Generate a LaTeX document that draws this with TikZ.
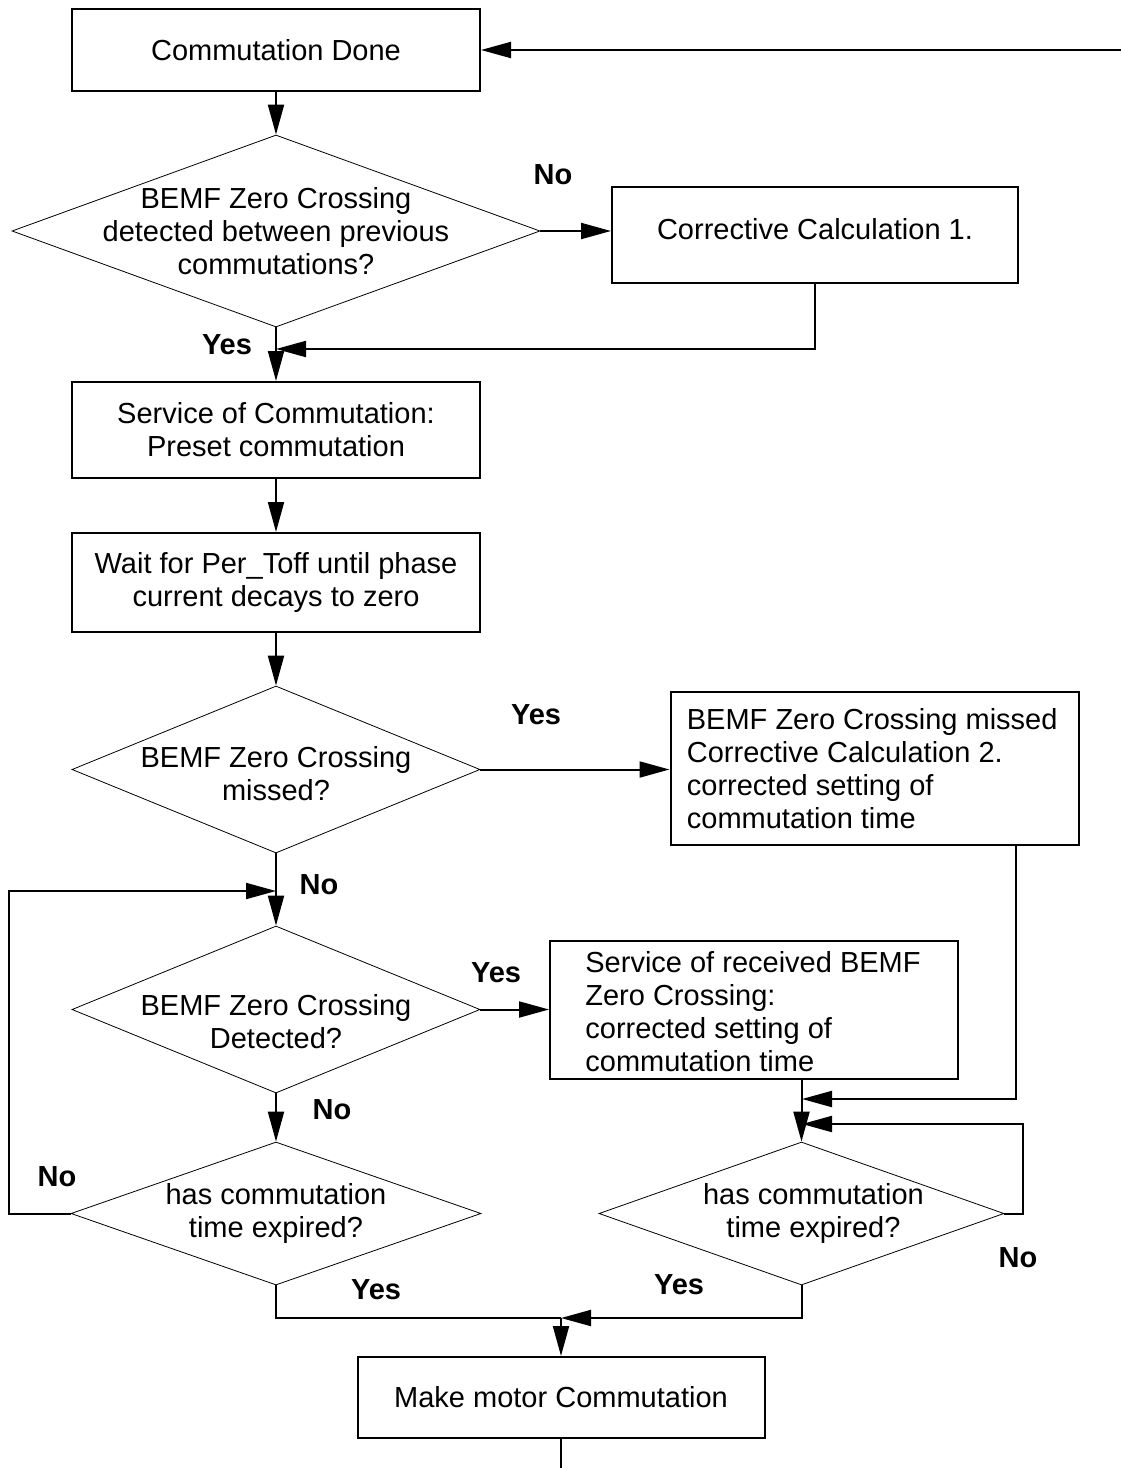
\documentclass[tikz,border=0pt]{standalone}
\usepackage{fontspec}
\setmainfont{Liberation Sans}
\usetikzlibrary{shapes.geometric,arrows.meta}

\tikzset{
  box/.style={draw, line width=1pt, minimum width=204pt, inner sep=0pt, align=center, font=\fontsize{14.5}{16.5}\selectfont},
  boxtext/.style={align=left, inner sep=0pt, font=\fontsize{14.5}{16.5}\selectfont},
  dec/.style={draw, line width=0.4pt, diamond, inner sep=0pt, minimum width=204pt},
  dectext/.style={align=center, inner sep=0pt, font=\fontsize{14.5}{16.5}\selectfont},
  lbl/.style={font=\fontsize{14.5}{16.5}\selectfont\bfseries},
  flow/.style={line width=1pt, -{Triangle[length=15pt,width=8pt]}},
  line/.style={line width=1pt},
}

\begin{document}
\begin{tikzpicture}[x=0.5pt,y=-0.5pt]
\useasboundingbox (0,0) rectangle (1121,1468);

% left column
\node[box, minimum height=41pt] (done) at (276,50) {Commutation Done};
\node[dec, minimum width=264pt, minimum height=96pt,
  label={[dectext]center:{BEMF Zero Crossing\\detected between previous\\commutations?}}] (zc1) at (276,231) {};
\node[box, minimum height=48pt] (svc) at (276,430) {Service of Commutation:\\Preset commutation};
\node[box, minimum height=49.5pt] (wait) at (276,582.5) {Wait for Per\_Toff until phase\\current decays to zero};
\node[dec, minimum height=83.5pt,
  label={[dectext, yshift=-2pt]center:{BEMF Zero Crossing\\missed?}}] (zc2) at (276,769.5) {};
\node[dec, minimum height=83.5pt,
  label={[dectext, yshift=-6pt]center:{BEMF Zero Crossing\\Detected?}}] (zc3) at (276,1009.5) {};
\node[dec, minimum width=205pt, minimum height=71.5pt,
  label={[dectext]center:{has commutation\\time expired?}}] (zc4) at (276,1213.5) {};

% right column
\node[box, minimum width=203pt, minimum height=48pt,
  label={[dectext, yshift=3pt]center:{Corrective Calculation 1.}}] (cc1) at (815,235) {};
\node[box, minimum height=76.5pt,
  label={[boxtext, anchor=west, xshift=8.5pt]west:{BEMF Zero Crossing missed\\Corrective Calculation 2.\\corrected setting of\\commutation time}}] (cc2) at (874.5,768.5) {};
\node[box, minimum height=69pt,
  label={[boxtext, anchor=west, xshift=18pt, yshift=-1pt]west:{Service of received BEMF\\Zero Crossing:\\corrected setting of\\commutation time}}] (srb) at (754,1010) {};
\node[dec, minimum width=202.5pt, minimum height=71.5pt,
  label={[dectext, xshift=6pt]center:{has commutation\\time expired?}}] (zc5) at (801.5,1213.5) {};
\node[box, minimum width=203.5pt, minimum height=40.5pt] (make) at (561,1397.5) {Make motor Commutation};

% labels
\node[lbl] (no1) at (553,175) {No};
\node[lbl] (yes1) at (227,345) {Yes};
\node[lbl] (yes2) at (536,715) {Yes};
\node[lbl] (no2) at (319,885) {No};
\node[lbl] (yes3) at (496,973) {Yes};
\node[lbl] (no3) at (332,1110) {No};
\node[lbl] (no4) at (57,1177) {No};
\node[lbl] (yes4) at (376,1290) {Yes};
\node[lbl] (yes5) at (679,1285) {Yes};
\node[lbl] (no5) at (1018,1258) {No};

% join points
\coordinate (in) at (1121,50);
\coordinate (j1) at (276,349);
\coordinate (j2) at (276,891);
\coordinate (j3) at (802,1099);
\coordinate (j4) at (802,1124);
\coordinate (j5) at (561,1318);
\coordinate (k1) at (9,891);
\coordinate (k2) at (1016,1099);
\coordinate (k3) at (1023,1124);
\coordinate (out) at (561,1468);

% connectors
\draw[flow] (in) -- (done.east);
\draw[flow] (done.south) -- (zc1.north);
\draw[flow] (zc1.east) -- (zc1.east -| cc1.west);
\draw[flow] (cc1.south) |- (j1);
\draw[flow] (zc1.south) -- (svc.north);
\draw[flow] (svc.south) -- (wait.north);
\draw[flow] (wait.south) -- (zc2.north);
\draw[flow] (zc2.east) -- (zc2.east -| cc2.west);
\draw[flow] (cc2.south -| k2) -- (k2) -- (j3);
\draw[flow] (zc2.south) -- (zc3.north);
\draw[flow] (zc4.west) -| (k1) -- (j2);
\draw[flow] (zc3.east) -- (zc3.east -| srb.west);
\draw[flow] (zc3.south) -- (zc4.north);
\draw[flow] (srb.south -| zc5.north) -- (zc5.north);
\draw[flow] (zc5.east) -| (k3) -- (j4);
\draw[line] (zc4.south) |- (j5);
\draw[flow] (zc5.south) |- (j5);
\draw[flow] (j5) -- (make.north);
\draw[line] (make.south) -- (out);
\end{tikzpicture}
\end{document}
